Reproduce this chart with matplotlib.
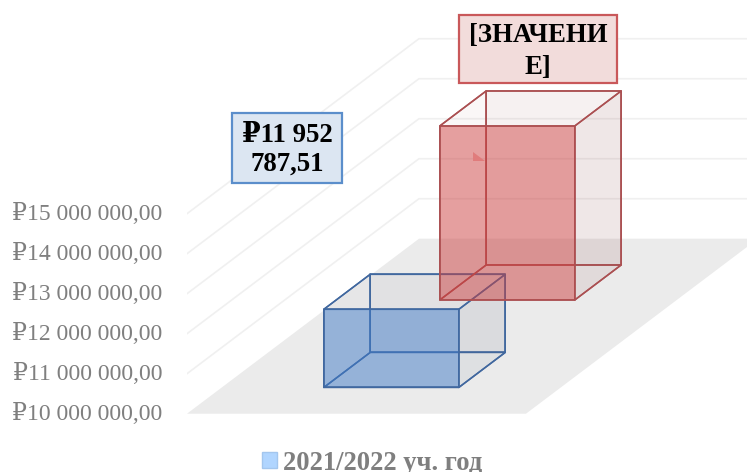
import matplotlib
matplotlib.use('Agg')
from matplotlib import pyplot as plt
from matplotlib.patches import Patch, Polygon, Rectangle
from matplotlib.transforms import ScaledTranslation

W, H = 747, 472

tick_values = [10000000, 11000000, 12000000, 13000000, 14000000, 15000000]
tick_labels = ['₽10 000 000,00', '₽11 000 000,00', '₽12 000 000,00',
			   '₽13 000 000,00', '₽14 000 000,00', '₽15 000 000,00']
series_names = ['2021/2022 уч. год', '2022/2023 уч. год']
series_values = [11952787.51, 14350000]
value_labels = ['₽11 952\n787,51', '[ЗНАЧЕНИ\nЕ]']

PX_PER_RUB = 40 / 1000000
FLOOR_LEFT, FLOOR_W, FLOOR_D, FLOOR_DX = 187, 339, 175, 232
BAR_W, BAR_D = 135, 35
BASE = tick_values[0]

plt.rcParams['font.family'] = ['Liberation Serif', 'DejaVu Serif']


def project(x, value, depth):
	# oblique projection used by the 3D look of the chart
	return x + depth * FLOOR_DX / FLOOR_D, value + depth / PX_PER_RUB


def draw_box(ax, value, index, front, side, top, back, edge):
	slot = FLOOR_D / len(series_values)
	d0 = (slot - BAR_D) / 2 + index * slot
	d1 = d0 + BAR_D
	x0 = FLOOR_LEFT + (FLOOR_W - BAR_W) / 2
	x1 = x0 + BAR_W

	def face(pts, color):
		ax.add_patch(Polygon([project(*p) for p in pts], closed=True, facecolor=color,
							 edgecolor=edge, linewidth=1.1, joinstyle='round', zorder=3 + index * 0.1))

	# hidden faces first, so their edges show through the front
	face([(x0, BASE, d1), (x1, BASE, d1), (x1, value, d1), (x0, value, d1)], back)
	face([(x0, BASE, d0), (x0, BASE, d1), (x0, value, d1), (x0, value, d0)], (1, 1, 1, 0))
	face([(x0, BASE, d0), (x1, BASE, d0), (x1, BASE, d1), (x0, BASE, d1)], (1, 1, 1, 0))
	face([(x1, BASE, d0), (x1, BASE, d1), (x1, value, d1), (x1, value, d0)], side)
	face([(x0, value, d0), (x1, value, d0), (x1, value, d1), (x0, value, d1)], top)
	face([(x0, BASE, d0), (x1, BASE, d0), (x1, value, d0), (x0, value, d0)], front)


def label_box(fig, x0, y0, x1, y1, face, edge, text, shift, spacing):
	fig.add_artist(Rectangle((x0 / W, 1 - y1 / H), (x1 - x0) / W, (y1 - y0) / H, transform=fig.transFigure,
						   facecolor=face, edgecolor=edge, linewidth=1.6, zorder=5))
	fig.text((x0 + x1) / 2 / W, 1 - ((y0 + y1) / 2 + shift) / H, text, ha='center', va='center', color='black',
			 fontsize=19.3, fontweight='bold', linespacing=spacing, zorder=6)


fig = plt.figure(figsize=(W / 100, H / 100), dpi=100)
ax = fig.add_axes([FLOOR_LEFT / W, 0, 1 - FLOOR_LEFT / W, 1])
ax.set_xlim(FLOOR_LEFT, W)
ax.set_ylim(BASE - (H - 413.7) / PX_PER_RUB, BASE + 413.7 / PX_PER_RUB)
ax.set_xticks([])
ax.set_yticks(tick_values)
ax.set_yticklabels(tick_labels, fontsize=17, color='#7f7f7f')
ax.tick_params(axis='y', length=0, pad=17.5)
label_shift = ScaledTranslation(0, 2.5 / 100, fig.dpi_scale_trans)
for label in ax.get_yticklabels():
	label.set_transform(label.get_transform() + label_shift)
for spine in ax.spines.values():
	spine.set_visible(False)

# wall gridlines
for v in tick_values[1:]:
	xs, ys = zip(project(FLOOR_LEFT, v, 0), project(FLOOR_LEFT, v, FLOOR_D), (W + 20, v + FLOOR_D / PX_PER_RUB))
	ax.plot(xs, ys, color='#f0f0f0', linewidth=1.2, zorder=1)

# floor
floor = [project(FLOOR_LEFT, BASE, 0), project(FLOOR_LEFT + FLOOR_W, BASE, 0),
		 project(FLOOR_LEFT + FLOOR_W, BASE, FLOOR_D), project(FLOOR_LEFT, BASE, FLOOR_D)]
ax.add_patch(Polygon(floor, closed=True, facecolor='#ebebeb', edgecolor='none', zorder=2))

draw_box(ax, series_values[1], 1, (0.80, 0.25, 0.25, 0.50), (0.50, 0.22, 0.22, 0.09),
		 (0.55, 0.25, 0.25, 0.04), (0.55, 0.25, 0.25, 0.03), '#ab5052')
draw_box(ax, series_values[0], 0, (0.25, 0.48, 0.78, 0.50), (0.30, 0.38, 0.50, 0.08),
		 (0.30, 0.38, 0.50, 0.03), (0.30, 0.38, 0.50, 0.03), '#41689f')

# stray callout tail from the label inside the red box
fig.add_artist(Polygon([(473 / W, 1 - 152 / H), (473 / W, 1 - 161 / H), (485 / W, 1 - 161 / H)], closed=True,
					   transform=fig.transFigure, facecolor='#e07c7c', edgecolor='none', zorder=4))

label_box(fig, 232, 113, 342, 183, '#dce6f2', '#5b8ecb', value_labels[0], 2, 1.2)
label_box(fig, 459, 15, 617, 83, '#f2dcdb', '#c9585a', value_labels[1], 2.5, 1.38)

handle = Patch(facecolor='#b0d5ff', edgecolor='#a3c6ee', linewidth=1)
fig.legend([handle], series_names[:1], loc='center left', bbox_to_anchor=(240.5 / W, 1 - 463 / H), frameon=False,
		   handlelength=0.55, handleheight=0.55, handletextpad=0.25, borderpad=0.3,
		   prop={'size': 19.2, 'weight': 'bold'}, labelcolor='#7f7f7f')

fig.savefig('out.png', dpi=100)
plt.close()
